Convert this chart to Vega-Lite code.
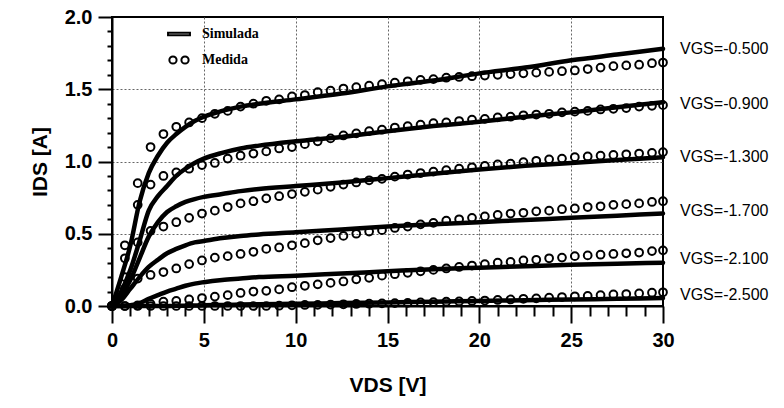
{
  "$schema": "https://vega.github.io/schema/vega-lite/v6.json",
  "width": 551,
  "height": 289,
  "autosize": {"type": "none"},
  "padding": {"left": 112, "top": 17, "right": 121, "bottom": 102},
  "background": "white",
  "config": {"view": {"stroke": "black", "strokeWidth": 2}, "font": "Liberation Sans"},
  "datasets": {
    "sim": [
      {"v": 0, "a": 0, "b": 0, "c": 0, "d": 0, "e": 0, "f": 0},
      {"v": 0.5, "a": 0.2, "b": 0.1, "c": 0.07, "d": 0.04, "e": 0, "f": 0},
      {"v": 1, "a": 0.42, "b": 0.25, "c": 0.18, "d": 0.12, "e": 0.005, "f": 0},
      {"v": 1.5, "a": 0.72, "b": 0.45, "c": 0.33, "d": 0.2, "e": 0.02, "f": 0},
      {"v": 2, "a": 0.92, "b": 0.66, "c": 0.48, "d": 0.27, "e": 0.05, "f": 0},
      {"v": 2.5, "a": 1.04, "b": 0.76, "c": 0.58, "d": 0.32, "e": 0.075, "f": 0},
      {"v": 3, "a": 1.13, "b": 0.83, "c": 0.65, "d": 0.365, "e": 0.1, "f": 0},
      {"v": 3.5, "a": 1.19, "b": 0.9, "c": 0.69, "d": 0.395, "e": 0.12, "f": 0.001},
      {"v": 4, "a": 1.24, "b": 0.95, "c": 0.72, "d": 0.42, "e": 0.14, "f": 0.002},
      {"v": 4.5, "a": 1.28, "b": 0.99, "c": 0.74, "d": 0.44, "e": 0.155, "f": 0.003},
      {"v": 5, "a": 1.31, "b": 1.02, "c": 0.755, "d": 0.45, "e": 0.165, "f": 0.005},
      {"v": 6, "a": 1.35, "b": 1.06, "c": 0.775, "d": 0.47, "e": 0.18, "f": 0.007},
      {"v": 7, "a": 1.38, "b": 1.09, "c": 0.795, "d": 0.485, "e": 0.19, "f": 0.01},
      {"v": 8, "a": 1.4, "b": 1.11, "c": 0.81, "d": 0.495, "e": 0.2, "f": 0.012},
      {"v": 10, "a": 1.43, "b": 1.14, "c": 0.83, "d": 0.51, "e": 0.21, "f": 0.015},
      {"v": 12.5, "a": 1.47, "b": 1.17, "c": 0.855, "d": 0.53, "e": 0.225, "f": 0.02},
      {"v": 15, "a": 1.52, "b": 1.21, "c": 0.885, "d": 0.55, "e": 0.24, "f": 0.025},
      {"v": 17.5, "a": 1.56, "b": 1.245, "c": 0.915, "d": 0.565, "e": 0.255, "f": 0.03},
      {"v": 20, "a": 1.61, "b": 1.275, "c": 0.945, "d": 0.58, "e": 0.265, "f": 0.035},
      {"v": 22.5, "a": 1.65, "b": 1.31, "c": 0.97, "d": 0.595, "e": 0.275, "f": 0.04},
      {"v": 25, "a": 1.7, "b": 1.34, "c": 0.99, "d": 0.61, "e": 0.285, "f": 0.045},
      {"v": 27.5, "a": 1.74, "b": 1.375, "c": 1.01, "d": 0.625, "e": 0.293, "f": 0.05},
      {"v": 30, "a": 1.78, "b": 1.41, "c": 1.03, "d": 0.64, "e": 0.3, "f": 0.055}
    ],
    "meas": [
      {"v": 0, "a": 0, "b": 0, "c": 0, "d": 0, "e": 0, "f": 0},
      {"v": 0.7, "a": 0.42, "b": 0.33, "c": 0.2, "d": 0.12, "e": 0, "f": 0},
      {"v": 1.4, "a": 0.85, "b": 0.7, "c": 0.44, "d": 0.19, "e": 0.005, "f": 0},
      {"v": 2.1, "a": 1.1, "b": 0.84, "c": 0.52, "d": 0.215, "e": 0.015, "f": 0},
      {"v": 2.8, "a": 1.19, "b": 0.9, "c": 0.55, "d": 0.235, "e": 0.03, "f": 0},
      {"v": 3.5, "a": 1.24, "b": 0.925, "c": 0.58, "d": 0.26, "e": 0.035, "f": 0},
      {"v": 4.2, "a": 1.27, "b": 0.95, "c": 0.61, "d": 0.29, "e": 0.045, "f": 0},
      {"v": 4.9, "a": 1.3, "b": 0.975, "c": 0.64, "d": 0.315, "e": 0.055, "f": 0},
      {"v": 5.6, "a": 1.33, "b": 0.99, "c": 0.66, "d": 0.335, "e": 0.065, "f": 0},
      {"v": 6.3, "a": 1.35, "b": 1.02, "c": 0.685, "d": 0.345, "e": 0.075, "f": 0},
      {"v": 7.0, "a": 1.38, "b": 1.04, "c": 0.71, "d": 0.36, "e": 0.09, "f": 0},
      {"v": 7.7, "a": 1.4, "b": 1.055, "c": 0.725, "d": 0.375, "e": 0.1, "f": 0},
      {"v": 8.4, "a": 1.42, "b": 1.07, "c": 0.745, "d": 0.395, "e": 0.105, "f": 0},
      {"v": 9.1, "a": 1.43, "b": 1.09, "c": 0.76, "d": 0.405, "e": 0.115, "f": 0.002},
      {"v": 9.8, "a": 1.45, "b": 1.1, "c": 0.775, "d": 0.42, "e": 0.13, "f": 0.005},
      {"v": 10.5, "a": 1.46, "b": 1.12, "c": 0.79, "d": 0.435, "e": 0.14, "f": 0.007},
      {"v": 11.2, "a": 1.48, "b": 1.14, "c": 0.805, "d": 0.455, "e": 0.15, "f": 0.008},
      {"v": 11.9, "a": 1.49, "b": 1.16, "c": 0.825, "d": 0.47, "e": 0.16, "f": 0.01},
      {"v": 12.6, "a": 1.505, "b": 1.18, "c": 0.84, "d": 0.485, "e": 0.17, "f": 0.012},
      {"v": 13.3, "a": 1.515, "b": 1.195, "c": 0.855, "d": 0.5, "e": 0.185, "f": 0.014},
      {"v": 14.0, "a": 1.525, "b": 1.21, "c": 0.87, "d": 0.515, "e": 0.195, "f": 0.016},
      {"v": 14.7, "a": 1.535, "b": 1.22, "c": 0.88, "d": 0.525, "e": 0.21, "f": 0.018},
      {"v": 15.4, "a": 1.545, "b": 1.235, "c": 0.895, "d": 0.54, "e": 0.22, "f": 0.02},
      {"v": 16.1, "a": 1.555, "b": 1.245, "c": 0.91, "d": 0.55, "e": 0.23, "f": 0.022},
      {"v": 16.8, "a": 1.565, "b": 1.255, "c": 0.92, "d": 0.565, "e": 0.24, "f": 0.025},
      {"v": 17.5, "a": 1.57, "b": 1.265, "c": 0.93, "d": 0.575, "e": 0.25, "f": 0.027},
      {"v": 18.2, "a": 1.58, "b": 1.27, "c": 0.94, "d": 0.59, "e": 0.26, "f": 0.03},
      {"v": 18.9, "a": 1.585, "b": 1.28, "c": 0.95, "d": 0.6, "e": 0.27, "f": 0.032},
      {"v": 19.6, "a": 1.59, "b": 1.29, "c": 0.96, "d": 0.61, "e": 0.28, "f": 0.035},
      {"v": 20.3, "a": 1.595, "b": 1.295, "c": 0.97, "d": 0.62, "e": 0.29, "f": 0.038},
      {"v": 21.0, "a": 1.6, "b": 1.305, "c": 0.98, "d": 0.63, "e": 0.3, "f": 0.042},
      {"v": 21.7, "a": 1.605, "b": 1.31, "c": 0.985, "d": 0.64, "e": 0.305, "f": 0.045},
      {"v": 22.4, "a": 1.61, "b": 1.32, "c": 0.995, "d": 0.645, "e": 0.315, "f": 0.05},
      {"v": 23.1, "a": 1.615, "b": 1.325, "c": 1.005, "d": 0.655, "e": 0.32, "f": 0.053},
      {"v": 23.8, "a": 1.62, "b": 1.33, "c": 1.015, "d": 0.66, "e": 0.33, "f": 0.058},
      {"v": 24.5, "a": 1.625, "b": 1.34, "c": 1.02, "d": 0.67, "e": 0.335, "f": 0.062},
      {"v": 25.2, "a": 1.63, "b": 1.345, "c": 1.03, "d": 0.675, "e": 0.345, "f": 0.067},
      {"v": 25.9, "a": 1.64, "b": 1.35, "c": 1.035, "d": 0.685, "e": 0.35, "f": 0.07},
      {"v": 26.6, "a": 1.65, "b": 1.36, "c": 1.04, "d": 0.69, "e": 0.355, "f": 0.075},
      {"v": 27.3, "a": 1.66, "b": 1.365, "c": 1.045, "d": 0.7, "e": 0.36, "f": 0.08},
      {"v": 28.0, "a": 1.665, "b": 1.37, "c": 1.05, "d": 0.705, "e": 0.365, "f": 0.083},
      {"v": 28.7, "a": 1.67, "b": 1.38, "c": 1.055, "d": 0.71, "e": 0.37, "f": 0.087},
      {"v": 29.4, "a": 1.68, "b": 1.385, "c": 1.06, "d": 0.72, "e": 0.38, "f": 0.092},
      {"v": 30, "a": 1.685, "b": 1.39, "c": 1.065, "d": 0.725, "e": 0.385, "f": 0.095}
    ],
    "lab": [
      {"t": "VGS=-0.500", "v": 30, "i": 1.78},
      {"t": "VGS=-0.900", "v": 30, "i": 1.40},
      {"t": "VGS=-1.300", "v": 30, "i": 1.03},
      {"t": "VGS=-1.700", "v": 30, "i": 0.66},
      {"t": "VGS=-2.100", "v": 30, "i": 0.325},
      {"t": "VGS=-2.500", "v": 30, "i": 0.076}
    ],
    "leg": [
      {"k": "Simulada"},
      {"k": "Medida"}
    ]
  },
  "layer": [
    {
      "data": {"name": "sim"},
      "transform": [{"fold": ["a", "b", "c", "d", "e", "f"], "as": ["g", "i"]}],
      "mark": {"type": "line", "color": "black", "strokeWidth": 4.5, "interpolate": "monotone", "strokeCap": "round"},
      "encoding": {
        "x": {
          "field": "v", "type": "quantitative",
          "scale": {"domain": [0, 30], "nice": false, "zero": false},
          "axis": {
            "title": "VDS [V]",
            "values": [0,1,2,3,4,5,6,7,8,9,10,11,12,13,14,15,16,17,18,19,20,21,22,23,24,25,26,27,28,29,30],
            "tickCount": 100,
            "format": "d",
            "labelExpr": "datum.value % 5 === 0 ? datum.label : ''",
            "labelOverlap": false, "labelFlush": false, "labelBound": false,
            "tickSize": {"condition": {"test": "datum.value % 5 === 0", "value": 17}, "value": 10},
            "tickWidth": 2, "tickColor": "black",
            "domainColor": "black", "domainWidth": 2,
            "labelFont": "Liberation Sans", "labelFontWeight": "bold", "labelFontSize": 20, "labelColor": "black",
            "labelPadding": 7,
            "grid": true, "gridColor": "#666666", "gridDash": [2, 2], "gridWidth": 1,
            "gridOpacity": {"condition": {"test": "datum.value % 5 === 0 && datum.value > 0 && datum.value < 30", "value": 1}, "value": 0},
            "titleFont": "Liberation Sans", "titleFontWeight": "bold", "titleFontSize": 21, "titleColor": "black",
            "titlePadding": 24
          }
        },
        "y": {
          "field": "i", "type": "quantitative",
          "scale": {"domain": [0, 2], "nice": false, "zero": false},
          "axis": {
            "title": "IDS [A]",
            "values": [0,0.1,0.2,0.3,0.4,0.5,0.6,0.7,0.8,0.9,1.0,1.1,1.2,1.3,1.4,1.5,1.6,1.7,1.8,1.9,2.0],
            "tickCount": 100,
            "format": ".1f",
            "labelExpr": "abs(round(datum.value*10)) % 5 === 0 ? datum.label : ''",
            "labelOverlap": false, "labelFlush": false, "labelBound": false,
            "tickSize": {"condition": {"test": "abs(round(datum.value*10)) % 5 === 0", "value": 14}, "value": 5},
            "tickWidth": 2, "tickColor": "black",
            "domainColor": "black", "domainWidth": 2,
            "labelFont": "Liberation Sans", "labelFontWeight": "bold", "labelFontSize": 20, "labelColor": "black",
            "labelPadding": 6,
            "grid": true, "gridColor": "#666666", "gridDash": [2, 2], "gridWidth": 1,
            "gridOpacity": {"condition": {"test": "abs(round(datum.value*10)) % 5 === 0 && datum.value > 0.05 && datum.value < 1.95", "value": 1}, "value": 0},
            "titleFont": "Liberation Sans", "titleFontWeight": "bold", "titleFontSize": 21, "titleColor": "black",
            "titlePadding": 14
          }
        },
        "detail": {"field": "g", "type": "nominal"}
      }
    },
    {
      "data": {"name": "meas"},
      "transform": [{"fold": ["a", "b", "c", "d", "e", "f"], "as": ["g", "i"]}],
      "mark": {"type": "point", "shape": "circle", "filled": false, "color": "black", "strokeWidth": 2, "size": 60, "opacity": 1},
      "encoding": {
        "x": {"field": "v", "type": "quantitative", "title": "VDS [V]"},
        "y": {"field": "i", "type": "quantitative", "title": "IDS [A]"}
      }
    },
    {
      "data": {"name": "lab"},
      "mark": {"type": "text", "align": "left", "baseline": "middle", "dx": 17, "fontSize": 16, "font": "Liberation Sans", "color": "black"},
      "encoding": {
        "x": {"field": "v", "type": "quantitative", "title": "VDS [V]"},
        "y": {"field": "i", "type": "quantitative", "title": "IDS [A]"},
        "text": {"field": "t"}
      }
    },
    {
      "data": {"name": "leg"},
      "mark": {"type": "point", "filled": false, "color": "black", "strokeWidth": 2, "size": 480, "opacity": 1},
      "encoding": {
        "x": {"field": "v", "type": "quantitative", "title": "VDS [V]"},
        "y": {"field": "i", "type": "quantitative", "title": "IDS [A]"},
        "shape": {
          "field": "k", "type": "nominal",
          "scale": {
            "domain": ["Simulada", "Medida"],
            "range": [
              "M-1,-0.12L1,-0.12L1,0.12L-1,0.12Z",
              "M-0.88,0A0.33,0.33 0 1,0 -0.22,0A0.33,0.33 0 1,0 -0.88,0M0.22,0A0.33,0.33 0 1,0 0.88,0A0.33,0.33 0 1,0 0.22,0"
            ]
          },
          "legend": {
            "title": null,
            "orient": "none",
            "legendX": 55,
            "legendY": 5,
            "padding": 0,
            "rowPadding": 7,
            "symbolSize": 480,
            "labelOffset": 11,
            "labelFont": "Liberation Serif",
            "labelFontSize": 14,
            "labelFontWeight": "bold",
            "labelColor": "black",
            "symbolStrokeColor": "black",
            "symbolStrokeWidth": 2
          }
        }
      }
    }
  ]
}
